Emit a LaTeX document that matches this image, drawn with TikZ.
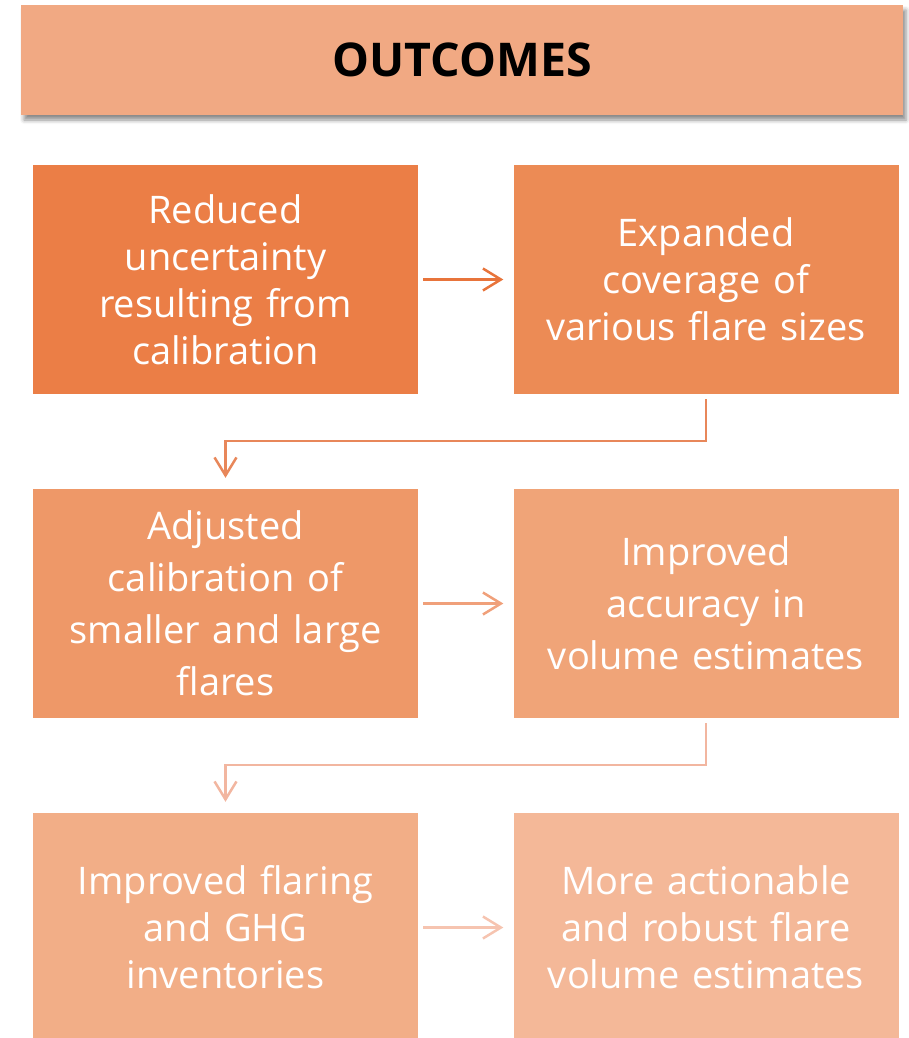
\documentclass[tikz,border=0pt]{standalone}
\usepackage{fontspec}
\setmainfont{Open Sans}
\usetikzlibrary{arrows.meta,shadows.blur}
\definecolor{hdr}{HTML}{F1A983}
\definecolor{cA}{HTML}{EB7E46}
\definecolor{cB}{HTML}{EC8B55}
\definecolor{cC}{HTML}{EE9868}
\definecolor{cD}{HTML}{F0A478}
\definecolor{cE}{HTML}{F2AE87}
\definecolor{cF}{HTML}{F4B898}
\definecolor{aA}{HTML}{E8743B}
\definecolor{kA}{HTML}{E8875A}
\definecolor{aB}{HTML}{F0A07A}
\definecolor{kB}{HTML}{F2B6A0}
\definecolor{aC}{HTML}{F6C4B0}
\tikzset{
  box/.style={rectangle, draw=none, minimum width=385pt, minimum height=229pt,
    inner sep=0pt, text=white, align=center, text width=375pt},
  rowone/.style={font=\fontsize{38}{47}\selectfont},
  rowtwo/.style={font=\fontsize{38}{52}\selectfont},
  link/.style={line width=2.5pt, -{Straight Barb[length=18pt,width=22pt,line width=2.5pt]},
    shorten <=5pt, shorten >=10pt},
  turn/.style={line width=2.5pt, -{Straight Barb[length=18pt,width=22pt,line width=2.5pt]},
    shorten <=5pt, shorten >=11pt},
}
\begin{document}
\begin{tikzpicture}[x=1pt,y=-1pt]
\useasboundingbox (0,0) rectangle (909,1038);
\node[rectangle, fill=hdr, minimum width=882pt, minimum height=110pt, inner sep=0pt,
  blur shadow={shadow xshift=3pt, shadow yshift=-5pt, shadow blur radius=4pt, shadow opacity=45},
  font=\fontsize{46.5}{50}\selectfont\bfseries] (hdr) at (462,60) {OUTCOMES};
\node[box, rowone, fill=cA] (b1) at (225.5,279.5) {Reduced\\uncertainty\\resulting from\\calibration};
\node[box, rowone, fill=cB] (b2) at (706,279.5) {Expanded\\coverage of\\various flare sizes};
\node[box, rowtwo, fill=cC] (b3) at (225.5,603.5) {Adjusted\\calibration of\\smaller and large\\flares};
\node[box, rowtwo, fill=cD] (b4) at (706,603.5) {Improved\\accuracy in\\volume estimates};
\node[box, rowone, fill=cE] (b5) at (225.5,927.5) {Improved flaring\\and GHG\\inventories};
\node[box, rowone, fill=cF] (b6) at (706,927.5) {More actionable\\and robust flare\\volume estimates};
\draw[link, draw=aA] (b1) -- (b2);
\draw[link, draw=aB] (b3) -- (b4);
\draw[link, draw=aC] (b5) -- (b6);
\draw[turn, draw=kA] (b2.south) -- ++(0,47) -| (b3.north);
\draw[turn, draw=kB] (b4.south) -- ++(0,47) -| (b5.north);
\end{tikzpicture}
\end{document}
